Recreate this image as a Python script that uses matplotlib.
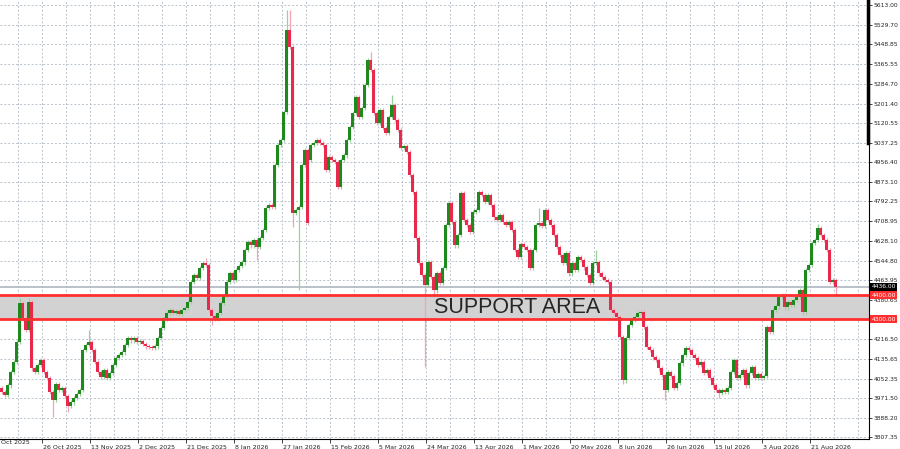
import matplotlib
matplotlib.use("Agg")
import matplotlib.pyplot as plt
import matplotlib.transforms as mtransforms
import numpy as np

# daily closes (gold, Oct 2025 - Aug 2026)
closes = [
    3996, 3984, 4025, 4080, 4122, 4205, 4368, 4305, 4255, 4372,
    4096, 4080, 4109, 4130, 4080, 4055, 3996, 3963, 4030, 4005,
    4013, 3980, 3938, 3954, 3971, 3988, 4005, 4172, 4193, 4205,
    4172, 4122, 4080, 4059, 4088, 4055, 4076, 4109, 4138, 4151,
    4163, 4193, 4222, 4213, 4222, 4205, 4209, 4197, 4188, 4184,
    4180, 4188, 4222, 4264, 4305, 4326, 4339, 4326, 4335, 4322,
    4339, 4347, 4372, 4456, 4485, 4473, 4514, 4535, 4527, 4339,
    4314, 4305, 4326, 4368, 4397, 4456, 4493, 4464, 4506, 4523,
    4539, 4590, 4623, 4610, 4631, 4602, 4640, 4673, 4765, 4778,
    4769, 4945, 5028, 5049, 5166, 5509, 5438, 4744, 4757, 4769,
    4945, 5007, 4702, 5028, 5037, 5049, 5037, 5028, 4924, 4978,
    4966, 4957, 4853, 4966, 4986, 5049, 5103, 5162, 5229, 5145,
    5183, 5279, 5383, 5342, 5162, 5120, 5174, 5099, 5078, 5145,
    5195, 5133, 5091, 5016, 5024, 4999, 4903, 4832, 4640, 4535,
    4485, 4443, 4539, 4477, 4422, 4493, 4452, 4514, 4694, 4786,
    4707, 4610, 4652, 4828, 4715, 4694, 4665, 4748, 4757, 4832,
    4819, 4790, 4819, 4778, 4727, 4715, 4736, 4707, 4694, 4707,
    4673, 4590, 4560, 4615, 4602, 4590, 4514, 4590, 4694, 4702,
    4690, 4757, 4715, 4694, 4652, 4602, 4569, 4535, 4577, 4493,
    4535, 4506, 4560, 4548, 4518, 4485, 4452, 4535, 4539, 4493,
    4477, 4464, 4456, 4339, 4326, 4310, 4226, 4046, 4222, 4276,
    4297, 4310, 4326, 4330, 4268, 4184, 4172, 4142, 4130, 4096,
    4067, 4005, 4080, 4063, 4013, 4034, 4117, 4151, 4180, 4172,
    4151, 4138, 4109, 4122, 4076, 4088, 4055, 4025, 4005, 3992,
    4005, 3996, 4013, 4080, 4130, 4055, 4067, 4088, 4025, 4076,
    4101, 4055, 4071, 4055, 4063, 4268, 4247, 4339, 4355, 4393,
    4401, 4351, 4372, 4360, 4381, 4393, 4422, 4330, 4506, 4527,
    4619, 4631, 4681, 4652, 4631, 4590, 4456, 4464, 4436,
]
first_open = 4013
gap_opens = {103: 4966}

# longer wicks that stand out
wick_highs = {6: 4389, 9: 4389, 29: 4255, 68: 4556, 95: 5592, 96: 5592,
              123: 5417, 130: 5237, 179: 4765, 198: 4590, 272: 4698}
wick_lows = {17: 3892, 22: 3913, 70: 4276, 85: 4548, 97: 4686, 99: 4422,
             141: 4101, 144: 4393, 207: 4030, 221: 3963, 239: 3971, 278: 4401}

date_labels = ["7 Oct 2025", "26 Oct 2025", "13 Nov 2025", "2 Dec 2025",
               "21 Dec 2025", "8 Jan 2026", "27 Jan 2026", "15 Feb 2026",
               "5 Mar 2026", "24 Mar 2026", "13 Apr 2026", "1 May 2026",
               "20 May 2026", "8 Jun 2026", "26 Jun 2026", "15 Jul 2026",
               "3 Aug 2026", "21 Aug 2026"]

price_ticks = [5613.00, 5529.70, 5448.85, 5365.55, 5284.70, 5201.40,
               5120.55, 5037.25, 4956.40, 4873.10, 4792.25, 4708.95,
               4628.10, 4544.80, 4463.95, 4380.65, 4299.80, 4216.50,
               4135.65, 4052.35, 3971.50, 3888.20, 3807.35]

support_low = 4300.00
support_high = 4400.00

green = "#1e8a1e"
red = "#e8294c"
green_wick = "#9ccf9c"
red_wick = "#f3a3b3"
grid_col = "#b9c2cc"

fig = plt.figure(figsize=(9, 4.49), dpi=100)
ax = fig.add_axes([0, 10 / 449, 869 / 900, 439 / 449])

n = len(closes)
x = np.arange(n)
opens = [first_open] + closes[:-1]
for i, v in gap_opens.items():
    opens[i] = v
o = np.array(opens, float)
c = np.array(closes, float)
up = c >= o
body_lo = np.minimum(o, c)
body_h = np.maximum(np.abs(c - o), 4)
hi = np.maximum(o, c) + 10
lo = np.minimum(o, c) - 10
for i, v in wick_highs.items():
    hi[i] = v
for i, v in wick_lows.items():
    lo[i] = v

# support zone
ax.axhspan(support_low, support_high, color="#d2d2d2", zorder=0.5, lw=0)
ax.axhline(c[-1], color="#b4bcc6", lw=1.3, zorder=1)

ax.vlines(x[up], lo[up], hi[up], color=green_wick, lw=0.9, zorder=2)
ax.vlines(x[~up], lo[~up], hi[~up], color=red_wick, lw=0.9, zorder=2)
ax.bar(x[up], body_h[up], bottom=body_lo[up], width=0.75, color=green, lw=0, zorder=3)
ax.bar(x[~up], body_h[~up], bottom=body_lo[~up], width=0.75, color=red, lw=0, zorder=3)

ax.axhline(support_high, color="#ff2f2f", lw=2.0, zorder=4)
ax.axhline(support_low, color="#ff2f2f", lw=2.0, zorder=4)

ax.text(0.595, (support_low + support_high) / 2, "SUPPORT AREA",
        transform=mtransforms.blended_transform_factory(ax.transAxes, ax.transData),
        ha="center", va="center", fontsize=15.5, color="#262626",
        family="Liberation Sans", zorder=5)

ax.set_xlim(-0.5, 869 / 3 - 0.5)
ax.set_ylim(3800, 5634)

# axes, ticks and grid
ax.yaxis.tick_right()
ax.set_yticks(price_ticks)
ax.set_yticklabels([f"{v:.2f}" if v != 4299.80 else "" for v in price_ticks])
ax.tick_params(axis="y", length=2, width=0.6, pad=1.5, labelsize=4.3, colors="#222222")

tick_pos = [13.5 + 16 * k for k in range(len(date_labels) - 1)]
ax.set_xticks(tick_pos)
ax.set_xticklabels(date_labels[1:], ha="left")
ax.tick_params(axis="x", length=3, width=0.6, pad=1, labelsize=4.5, colors="#222222")
offset = mtransforms.ScaledTranslation(1 / 100, 0, fig.dpi_scale_trans)
for lbl in ax.get_xticklabels():
    lbl.set_transform(lbl.get_transform() + offset)
ax.text(13.5 - 16 + 0.3, -0.003, date_labels[0], transform=ax.get_xaxis_transform(),
        ha="left", va="top", fontsize=4.5, color="#222222", clip_on=False)

for gx in [13.5 + 8 * k for k in range(-1, 35)]:
    ax.axvline(gx, color=grid_col, lw=0.7, ls=(0, (2, 2)), zorder=0.3)
for gy in price_ticks:
    ax.axhline(gy, color=grid_col, lw=0.7, ls=(0, (2, 2)), zorder=0.3)

for side in ["top", "left"]:
    ax.spines[side].set_visible(False)
ax.spines["right"].set_linewidth(0.8)
ax.spines["bottom"].set_linewidth(0.8)
ax.plot([0.9985, 0.9985], [1 - 143 / 439, 1], transform=ax.transAxes,
        color="black", lw=2.5, clip_on=False, zorder=6)

# price tags on the right scale
tag_tr = mtransforms.blended_transform_factory(ax.transAxes, ax.transData)
for val, bg in [(c[-1], "black"), (support_high, "#ff2f2f"), (support_low, "#ff2f2f")]:
    ax.text(1.003, val, f"{val:.2f}", transform=tag_tr, ha="left", va="center",
            fontsize=4.3, color="white", clip_on=False, zorder=7,
            bbox=dict(boxstyle="square,pad=0.25", fc=bg, ec="none"))

fig.savefig("out.png", dpi=100, facecolor="white")
